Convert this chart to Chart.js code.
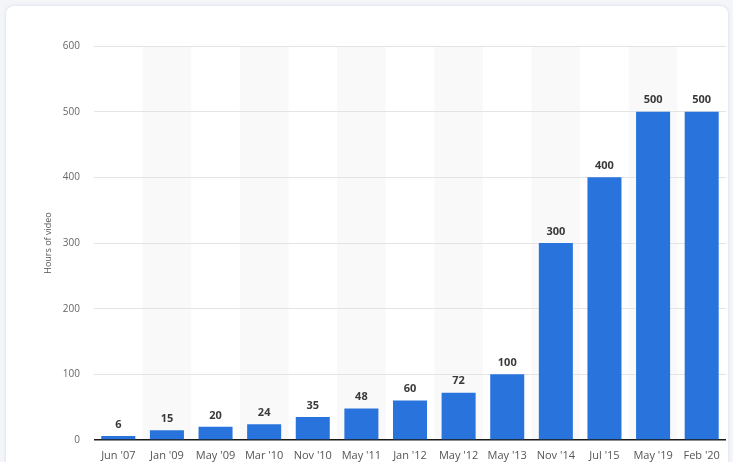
<!DOCTYPE html>
<html>
<head>
<meta charset="utf-8">
<script src="https://cdn.jsdelivr.net/npm/chart.js@4.4.0/dist/chart.umd.min.js"></script>
<style>
    html, body { margin: 0; padding: 0; background: #f3f5f9; }
    #card {
        position: absolute; left: 6px; top: 6px; width: 722px; height: 470px;
        background: #ffffff; border-radius: 8px;
        box-shadow: 0 0 3px rgba(180, 190, 210, 0.5);
    }
    #chart { position: absolute; left: 0; top: 0; }
</style>
</head>
<body>
<div id="card"></div>
<canvas id="chart" width="733" height="462"></canvas>
<script>
// Hours of video uploaded to YouTube every minute
const periods = ["Jun '07", "Jan '09", "May '09", "Mar '10", "Nov '10", "May '11", "Jan '12",
                 "May '12", "May '13", "Nov '14", "Jul '15", "May '19", "Feb '20"];
const hours = [6, 15, 20, 24, 35, 48, 60, 72, 100, 300, 400, 500, 500];
const yTicks = [0, 100, 200, 300, 400, 500, 600];

const FONT = "'Open Sans', 'Liberation Sans', sans-serif";

// light stripes behind every other category
const stripes = {
    id: 'stripes',
    beforeDraw(chart) {
        const ctx = chart.ctx;
        const area = chart.chartArea;
        const x = chart.scales.x;
        const band = (area.right - area.left) / periods.length;
        ctx.save();
        ctx.fillStyle = '#f9f9fa';
        periods.forEach((p, i) => {
            if (i % 2 === 1) {
                const cx = x.getPixelForValue(i);
                ctx.fillRect(cx - band / 2, area.top, band, area.bottom - area.top);
            }
        });
        ctx.restore();
    }
};

// value labels above bars
const valueLabels = {
    id: 'valueLabels',
    afterDatasetsDraw(chart) {
        const ctx = chart.ctx;
        const meta = chart.getDatasetMeta(0);
        ctx.save();
        ctx.font = 'bold 11px ' + FONT;
        ctx.fillStyle = '#3a3a3a';
        ctx.textAlign = 'center';
        ctx.textBaseline = 'bottom';
        meta.data.forEach((bar, i) => {
            ctx.fillText(hours[i], bar.x, bar.y - 6);
        });
        ctx.restore();
    }
};

const ctx = document.getElementById('chart').getContext('2d');
new Chart(ctx, {
    type: 'bar',
    data: {
        labels: periods,
        datasets: [{
            data: hours,
            backgroundColor: '#2874dc',
            barPercentage: 0.7,
            categoryPercentage: 1.0
        }]
    },
    options: {
        responsive: false,
        animation: false,
        layout: { padding: { left: 38, right: 7, top: 46, bottom: 0 } },
        plugins: {
            legend: { display: false },
            tooltip: { enabled: false }
        },
        scales: {
            x: {
                grid: { display: false, drawTicks: false },
                border: { display: false },
                ticks: {
                    color: '#555555',
                    font: { family: FONT, size: 11 },
                    padding: 9,
                    maxRotation: 0,
                    autoSkip: false
                },
                afterFit(scale) { scale.height = 22; }
            },
            y: {
                min: 0,
                max: 600,
                afterBuildTicks(scale) { scale.ticks = yTicks.map(v => ({ value: v })); },
                grid: {
                    drawTicks: false,
                    color: c => c.tick && c.tick.value === 0 ? '#1a1a1a' : '#e4e4e4',
                    lineWidth: c => c.tick && c.tick.value === 0 ? 1.5 : 1
                },
                border: { display: false },
                ticks: {
                    color: '#666666',
                    font: { family: FONT, size: 10 },
                    padding: 14
                },
                title: {
                    display: true,
                    text: 'Hours of video',
                    color: '#555555',
                    font: { family: FONT, size: 9 },
                    padding: { top: 5, bottom: 4 }
                },
                afterFit(scale) { scale.width = 56; }
            }
        }
    },
    plugins: [stripes, valueLabels]
});
</script>
</body>
</html>
